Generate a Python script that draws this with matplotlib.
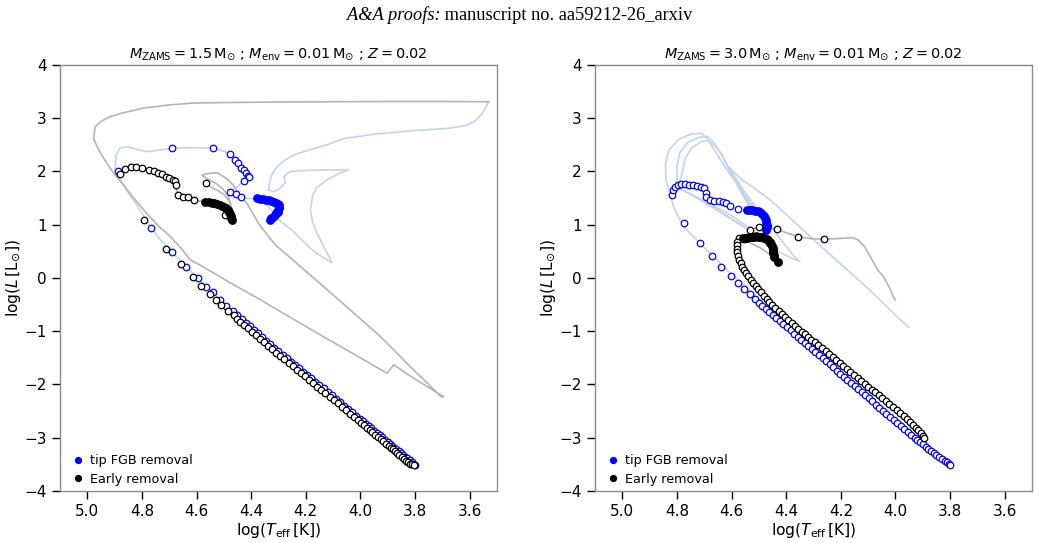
import numpy as np
import matplotlib
matplotlib.use("Agg")
import matplotlib.pyplot as plt
from matplotlib.lines import Line2D

# ---------------- data (log Teff, log L) ----------------
# left panel: M_ZAMS = 1.5
tip_open_l = [(4.889, 2.009), (4.690, 2.436), (4.540, 2.436), (4.477, 2.334), (4.460, 2.222),
              (4.447, 2.154), (4.436, 2.071), (4.427, 2.028), (4.419, 1.978), (4.413, 1.915),
              (4.409, 1.891), (4.425, 1.827), (4.477, 1.615), (4.457, 1.572), (4.436, 1.515),
              (4.766, 0.945), (4.690, 0.494), (4.637, 0.212), (4.596, -0.006), (4.564, -0.163),
              (4.540, -0.269), (4.513, -0.413), (4.492, -0.520), (4.468, -0.614), (4.450, -0.70),
              (4.435, -0.77), (4.420, -0.84), (4.405, -0.905), (4.390, -0.975), (4.375, -1.04),
              (4.360, -1.11), (4.345, -1.18), (4.330, -1.245), (4.315, -1.31), (4.300, -1.375),
              (4.285, -1.44), (4.270, -1.505), (4.255, -1.57), (4.240, -1.63), (4.225, -1.695),
              (4.210, -1.76), (4.195, -1.82), (4.180, -1.885), (4.165, -1.95), (4.150, -2.015),
              (4.135, -2.075), (4.120, -2.14), (4.105, -2.205), (4.090, -2.27), (4.075, -2.33),
              (4.060, -2.395), (4.045, -2.46), (4.030, -2.52), (4.015, -2.585), (4.000, -2.65),
              (3.990, -2.695), (3.980, -2.735), (3.970, -2.78), (3.960, -2.82), (3.950, -2.865),
              (3.940, -2.91), (3.930, -2.95), (3.920, -2.995), (3.910, -3.04), (3.900, -3.08),
              (3.892, -3.115), (3.884, -3.15), (3.876, -3.185), (3.868, -3.22), (3.860, -3.255),
              (3.852, -3.29), (3.844, -3.32), (3.836, -3.355), (3.828, -3.39), (3.820, -3.425),
              (3.812, -3.46), (3.806, -3.485), (3.800, -3.51)]
tip_fill_l = [(4.378, 1.497), (4.366, 1.490), (4.355, 1.480), (4.345, 1.470), (4.335, 1.460),
              (4.326, 1.447), (4.318, 1.433), (4.310, 1.412), (4.302, 1.390), (4.299, 1.365),
              (4.298, 1.339), (4.299, 1.310), (4.300, 1.280), (4.303, 1.247), (4.308, 1.214),
              (4.314, 1.180), (4.320, 1.150), (4.326, 1.120), (4.332, 1.090)]
early_open_l = [(4.879, 1.947), (4.861, 2.041), (4.840, 2.079), (4.821, 2.090), (4.800, 2.071),
                (4.773, 2.028), (4.757, 2.004), (4.742, 1.977), (4.726, 1.947), (4.712, 1.902),
                (4.699, 1.872), (4.686, 1.840), (4.680, 1.822), (4.675, 1.746), (4.669, 1.559),
                (4.651, 1.527), (4.631, 1.515), (4.611, 1.465), (4.565, 1.778), (4.497, 1.183),
                (4.794, 1.089), (4.712, 0.545), (4.657, 0.257), (4.614, 0.013), (4.582, -0.145),
                (4.552, -0.300), (4.529, -0.413), (4.509, -0.507), (4.485, -0.614), (4.464, -0.695),
                (4.452, -0.77), (4.440, -0.82), (4.427, -0.88), (4.412, -0.945), (4.398, -1.01),
                (4.383, -1.075), (4.368, -1.14), (4.353, -1.205), (4.338, -1.27), (4.323, -1.335),
                (4.308, -1.40), (4.293, -1.465), (4.278, -1.53), (4.263, -1.595), (4.248, -1.655),
                (4.233, -1.72), (4.218, -1.785), (4.203, -1.85), (4.188, -1.91), (4.173, -1.975),
                (4.158, -2.04), (4.143, -2.10), (4.128, -2.165), (4.113, -2.23), (4.098, -2.295),
                (4.083, -2.355), (4.068, -2.42), (4.053, -2.485), (4.038, -2.545), (4.023, -2.61),
                (4.008, -2.675), (3.996, -2.72), (3.986, -2.765), (3.976, -2.81), (3.966, -2.85),
                (3.956, -2.895), (3.946, -2.94), (3.936, -2.98), (3.926, -3.025), (3.916, -3.07),
                (3.906, -3.11), (3.897, -3.15), (3.889, -3.185), (3.881, -3.22), (3.873, -3.255),
                (3.865, -3.29), (3.857, -3.325), (3.849, -3.36), (3.841, -3.395), (3.833, -3.43),
                (3.825, -3.46), (3.817, -3.49), (3.810, -3.50), (3.805, -3.51)]
early_fill_l = [(4.568, 1.427), (4.556, 1.422), (4.545, 1.416), (4.535, 1.408), (4.525, 1.396),
                (4.515, 1.380), (4.506, 1.360), (4.498, 1.338), (4.491, 1.310), (4.486, 1.280),
                (4.481, 1.245), (4.477, 1.205), (4.474, 1.165), (4.472, 1.125), (4.470, 1.090)]

blue_track_l = [(3.530, 3.31), (3.540, 3.22), (3.555, 3.08), (3.580, 2.95), (3.615, 2.86),
                (3.680, 2.81), (3.800, 2.77), (3.950, 2.70), (4.060, 2.62), (4.123, 2.50),
                (4.190, 2.40), (4.244, 2.31), (4.280, 2.20), (4.305, 2.09), (4.322, 1.96),
                (4.330, 1.84), (4.337, 1.65), (4.315, 1.62), (4.290, 1.70), (4.275, 1.80),
                (4.280, 1.90), (4.265, 1.97), (4.256, 2.00), (4.200, 2.02), (4.120, 2.03),
                (4.043, 2.03), (4.080, 1.96), (4.123, 1.84), (4.160, 1.70), (4.175, 1.55),
                (4.183, 1.28), (4.175, 1.05), (4.160, 0.85), (4.135, 0.60), (4.115, 0.40),
                (4.104, 0.29), (4.125, 0.35), (4.170, 0.50), (4.214, 0.71), (4.256, 0.92),
                (4.300, 1.10), (4.330, 1.30), (4.360, 1.45), (4.400, 1.49), (4.436, 1.515),
                (4.457, 1.572), (4.477, 1.615), (4.450, 1.72), (4.425, 1.827), (4.409, 1.891),
                (4.413, 1.95), (4.430, 2.10), (4.450, 2.22), (4.477, 2.334), (4.510, 2.40),
                (4.540, 2.436), (4.620, 2.45), (4.690, 2.436), (4.740, 2.40), (4.782, 2.372),
                (4.830, 2.43), (4.855, 2.466), (4.880, 2.44), (4.895, 2.30), (4.897, 2.03),
                (4.880, 1.85), (4.850, 1.60), (4.810, 1.30), (4.766, 0.945), (4.730, 0.70),
                (4.690, 0.49), (4.637, 0.21), (4.596, -0.01), (4.540, -0.27), (4.468, -0.614),
                (4.318, -1.30), (4.000, -2.65), (3.800, -3.51)]
grey_track_l = [(3.530, 3.31), (3.700, 3.315), (3.900, 3.315), (4.100, 3.31), (4.300, 3.305),
                (4.500, 3.295), (4.612, 3.285), (4.700, 3.25), (4.795, 3.19), (4.870, 3.10),
                (4.916, 3.03), (4.950, 2.94), (4.971, 2.84), (4.977, 2.62), (4.965, 2.48),
                (4.952, 2.35), (4.930, 2.17), (4.904, 1.97), (4.860, 1.70), (4.830, 1.50),
                (4.794, 1.28), (4.740, 0.98), (4.696, 0.78), (4.655, 0.55), (4.623, 0.34),
                (4.586, 0.24), (4.480, -0.08), (4.366, -0.41), (4.250, -0.76), (4.136, -1.10),
                (4.020, -1.44), (3.902, -1.79), (3.878, -1.63), (3.800, -1.90), (3.695, -2.23),
                (3.705, -2.23), (3.760, -1.95), (3.817, -1.67), (3.870, -1.39), (3.927, -1.10),
                (4.037, -0.60), (4.180, 0.04), (4.311, 0.62), (4.370, 1.00), (4.415, 1.40),
                (4.445, 1.58), (4.465, 1.74), (4.490, 1.87), (4.525, 1.98), (4.560, 1.96),
                (4.580, 1.93), (4.560, 1.86), (4.530, 1.78), (4.505, 1.68), (4.485, 1.55),
                (4.475, 1.40)]
grey_chain_l = [(4.890, 1.93), (4.879, 1.947), (4.861, 2.041), (4.840, 2.079), (4.821, 2.090),
                (4.800, 2.071), (4.773, 2.028), (4.742, 1.977), (4.712, 1.902), (4.686, 1.840),
                (4.675, 1.746), (4.669, 1.559), (4.651, 1.527), (4.611, 1.465), (4.568, 1.427)]
grey_loop_l = [(4.565, 1.778), (4.545, 1.70), (4.525, 1.65), (4.500, 1.57), (4.480, 1.45),
               (4.470, 1.30)]

# right panel: M_ZAMS = 3.0
tip_open_r = [(4.818, 1.559), (4.816, 1.653), (4.808, 1.709), (4.797, 1.746), (4.784, 1.760),
              (4.769, 1.760), (4.755, 1.746), (4.740, 1.741), (4.725, 1.733), (4.711, 1.715),
              (4.700, 1.690), (4.693, 1.602), (4.692, 1.521), (4.680, 1.465), (4.666, 1.452),
              (4.647, 1.446), (4.631, 1.433), (4.619, 1.403), (4.607, 1.352), (4.578, 1.290),
              (4.775, 1.039), (4.717, 0.663), (4.671, 0.413), (4.638, 0.213), (4.604, 0.044),
              (4.578, -0.10), (4.553, -0.207), (4.534, -0.30), (4.516, -0.394), (4.501, -0.463),
              (4.488, -0.521), (4.475, -0.579), (4.462, -0.637), (4.449, -0.695), (4.436, -0.753),
              (4.423, -0.811), (4.410, -0.869), (4.397, -0.927), (4.384, -0.985), (4.371, -1.043),
              (4.358, -1.101), (4.345, -1.159), (4.332, -1.217), (4.319, -1.275), (4.306, -1.333),
              (4.293, -1.391), (4.280, -1.449), (4.267, -1.507), (4.254, -1.565), (4.241, -1.623),
              (4.228, -1.681), (4.215, -1.739), (4.202, -1.797), (4.189, -1.855), (4.176, -1.913),
              (4.163, -1.971), (4.150, -2.029), (4.137, -2.087), (4.124, -2.145), (4.111, -2.203),
              (4.098, -2.261), (4.085, -2.319), (4.072, -2.377), (4.059, -2.435), (4.046, -2.493),
              (4.033, -2.551), (4.020, -2.609), (4.007, -2.667), (3.994, -2.725), (3.981, -2.783),
              (3.968, -2.841), (3.955, -2.899), (3.942, -2.957), (3.930, -3.005), (3.920, -3.045),
              (3.910, -3.085), (3.900, -3.125), (3.890, -3.165), (3.880, -3.205), (3.870, -3.245),
              (3.860, -3.285), (3.850, -3.325), (3.840, -3.36), (3.830, -3.40), (3.820, -3.435),
              (3.812, -3.465), (3.805, -3.49), (3.799, -3.512)]
tip_fill_r = [(4.543, 1.277), (4.533, 1.275), (4.524, 1.271), (4.514, 1.262), (4.505, 1.249),
              (4.497, 1.230), (4.489, 1.202), (4.483, 1.165), (4.478, 1.127), (4.475, 1.085),
              (4.473, 1.042), (4.472, 1.000), (4.471, 0.958), (4.474, 0.901)]
early_open_r = [(4.556, 0.726), (4.531, 0.901), (4.501, 0.963), (4.433, 0.914), (4.356, 0.776),
                (4.263, 0.726),
                (4.574, 0.745), (4.580, 0.682), (4.582, 0.62), (4.581, 0.55), (4.579, 0.48),
                (4.576, 0.41), (4.572, 0.345), (4.567, 0.28), (4.562, 0.215), (4.555, 0.15),
                (4.547, 0.09), (4.539, 0.03), (4.530, -0.03), (4.521, -0.09), (4.512, -0.15),
                (4.502, -0.21), (4.492, -0.27), (4.482, -0.33), (4.472, -0.39), (4.462, -0.45),
                (4.451, -0.51), (4.440, -0.565), (4.428, -0.62), (4.416, -0.675), (4.404, -0.73),
                (4.392, -0.785), (4.380, -0.84), (4.368, -0.895), (4.356, -0.95), (4.344, -1.005),
                (4.332, -1.06), (4.320, -1.11), (4.308, -1.16), (4.295, -1.21), (4.282, -1.265),
                (4.269, -1.32), (4.256, -1.375), (4.243, -1.43), (4.230, -1.49), (4.217, -1.545),
                (4.204, -1.60), (4.191, -1.655), (4.178, -1.71), (4.165, -1.765), (4.152, -1.82),
                (4.139, -1.875), (4.126, -1.93), (4.113, -1.985), (4.100, -2.04), (4.087, -2.095),
                (4.074, -2.15), (4.061, -2.205), (4.048, -2.26), (4.035, -2.315), (4.022, -2.37),
                (4.009, -2.425), (3.996, -2.48), (3.983, -2.535), (3.970, -2.595), (3.958, -2.65),
                (3.946, -2.705), (3.935, -2.76), (3.925, -2.81), (3.916, -2.86), (3.908, -2.91),
                (3.901, -2.96), (3.896, -3.01)]
early_fill_r = [(4.560, 0.745), (4.551, 0.751), (4.543, 0.755), (4.534, 0.763), (4.525, 0.770),
                (4.517, 0.776), (4.510, 0.780), (4.502, 0.779), (4.495, 0.775), (4.487, 0.762),
                (4.480, 0.745), (4.472, 0.728), (4.466, 0.710), (4.461, 0.685), (4.458, 0.660),
                (4.455, 0.630), (4.452, 0.600), (4.450, 0.565), (4.448, 0.530), (4.447, 0.495),
                (4.447, 0.460), (4.446, 0.430), (4.446, 0.400), (4.431, 0.306)]

blue_tracks_r = [
    [(4.500, 1.20), (4.530, 1.40), (4.570, 1.70), (4.620, 2.05), (4.660, 2.38), (4.690, 2.62),
     (4.710, 2.715), (4.750, 2.70), (4.795, 2.60), (4.830, 2.40), (4.842, 2.15), (4.840, 1.84),
     (4.825, 1.55), (4.812, 1.34), (4.795, 1.15), (4.775, 0.96), (4.740, 0.78), (4.700, 0.57),
     (4.650, 0.32), (4.604, 0.08), (4.560, -0.12), (4.501, -0.40), (4.300, -1.30),
     (4.000, -2.64), (3.799, -3.51)],
    [(4.520, 1.25), (4.555, 1.55), (4.600, 1.95), (4.635, 2.30), (4.665, 2.55), (4.690, 2.66),
     (4.720, 2.64), (4.760, 2.55), (4.790, 2.35), (4.800, 2.10), (4.800, 1.85), (4.805, 1.70)],
    [(4.530, 1.30), (4.570, 1.65), (4.605, 2.00), (4.640, 2.35), (4.665, 2.50), (4.685, 2.58),
     (4.710, 2.56), (4.745, 2.45), (4.770, 2.25), (4.780, 2.00), (4.790, 1.80)],
    [(4.800, 1.70), (4.700, 1.45), (4.600, 1.17), (4.531, 0.93)],
    [(4.790, 1.68), (4.690, 1.40), (4.600, 1.10), (4.550, 0.95)],
    [(4.780, 1.66), (4.680, 1.36), (4.580, 1.05), (4.540, 0.90)],
    [(4.560, 1.60), (4.590, 1.90), (4.605, 2.05), (4.611, 2.09), (4.595, 2.00), (4.560, 1.84),
     (4.510, 1.66), (4.458, 1.465), (4.380, 1.10), (4.300, 0.72), (4.200, 0.26), (4.100, -0.20),
     (4.006, -0.663), (4.000, -0.70), (3.990, -0.75), (3.951, -0.926)],
    [(4.611, 2.09), (4.550, 1.60), (4.480, 1.12), (4.420, 0.72), (4.370, 0.40), (4.350, 0.31),
     (4.370, 0.35), (4.420, 0.47), (4.470, 0.62), (4.520, 0.78)],
]
grey_tracks_r = [
    [(4.582, 0.66), (4.578, 0.74), (4.556, 0.76), (4.531, 0.90), (4.501, 0.963), (4.470, 0.95),
     (4.433, 0.914), (4.400, 0.85), (4.356, 0.776), (4.310, 0.74), (4.263, 0.726), (4.210, 0.74),
     (4.159, 0.76), (4.138, 0.72), (4.115, 0.60), (4.092, 0.40), (4.065, 0.15), (4.043, 0.02),
     (4.020, -0.20), (4.006, -0.38), (4.000, -0.413)],
    [(4.580, 0.75), (4.540, 0.68), (4.500, 0.58), (4.470, 0.48), (4.450, 0.42)],
]

titles = [r"$M_{\rm ZAMS} = 1.5\,{\rm M}_{\odot}$ ; $M_{\rm env} = 0.01\,{\rm M}_{\odot}$ ; $Z = 0.02$",
          r"$M_{\rm ZAMS} = 3.0\,{\rm M}_{\odot}$ ; $M_{\rm env} = 0.01\,{\rm M}_{\odot}$ ; $Z = 0.02$"]
xticks = [5.0, 4.8, 4.6, 4.4, 4.2, 4.0, 3.8, 3.6]
yticks = [-4, -3, -2, -1, 0, 1, 2, 3, 4]

C_BLUE_LINE = "#c4d4e8"
C_GREY_LINE = "#b4b4b4"


def xy(pts):
    a = np.array(pts)
    return a[:, 0], a[:, 1]


fig = plt.figure(figsize=(10.39, 5.43), dpi=100)

# header: italic part + roman part, centred together
hdr_kw = dict(va="center", fontsize=13.2, family="Liberation Serif")
t1 = fig.text(0.5, 0.972, "A&A proofs:", style="italic", ha="left", **hdr_kw)
t2 = fig.text(0.5, 0.972, " manuscript no. aa59212-26_arxiv", ha="left", **hdr_kw)
r = fig.canvas.get_renderer()
w1 = t1.get_window_extent(r).width / fig.bbox.width
w2 = t2.get_window_extent(r).width / fig.bbox.width
x0 = 0.5 - (w1 + w2) / 2
t1.set_x(x0)
t2.set_x(x0 + w1)

panels = [
    dict(blue=[blue_track_l], grey=[grey_track_l, grey_chain_l, grey_loop_l],
         tip_open=tip_open_l, tip_fill=tip_fill_l, early_open=early_open_l, early_fill=early_fill_l),
    dict(blue=blue_tracks_r, grey=grey_tracks_r,
         tip_open=tip_open_r, tip_fill=tip_fill_r, early_open=early_open_r, early_fill=early_fill_r),
]
lefts = [0.0577, 0.5727]

for i, p in enumerate(panels):
    ax = fig.add_axes([lefts[i], 0.0958, 0.4206, 0.7845])
    for tr in p["blue"]:
        ax.plot(*xy(tr), color=C_BLUE_LINE, lw=1.2, zorder=1)
    for tr in p["grey"]:
        ax.plot(*xy(tr), color=C_GREY_LINE, lw=1.2, zorder=1.5)
    ax.scatter(*xy(p["tip_open"]), s=22, facecolor="white", edgecolor="blue", lw=0.9, zorder=3)
    ax.scatter(*xy(p["tip_fill"]), s=40, color="blue", lw=0, zorder=3)
    ax.scatter(*xy(p["early_open"]), s=22, facecolor="white", edgecolor="black", lw=0.9, zorder=4)
    ax.scatter(*xy(p["early_fill"]), s=40, color="black", lw=0, zorder=4)

    ax.set_xlim(5.1, 3.5)
    ax.set_ylim(-4, 4)
    ax.set_xticks(xticks)
    ax.set_yticks(yticks)
    ax.tick_params(direction="out", length=6, width=1, labelsize=11, colors="black")
    for sp in ax.spines.values():
        sp.set_color("#8c8c8c")
        sp.set_linewidth(1.0)
    ax.set_xlabel(r"$\log(T_{\rm eff}\,[{\rm K}])$", fontsize=11.2, labelpad=1)
    ax.set_ylabel(r"$\log(L\,[{\rm L}_{\odot}])$", fontsize=11.2, labelpad=1)
    ax.set_title(titles[i], fontsize=10.4, pad=5)

    handles = [Line2D([], [], ls="", marker="o", markersize=4.2, color="blue"),
               Line2D([], [], ls="", marker="o", markersize=4.2, color="black")]
    ax.legend(handles, ["tip FGB removal", "Early removal"], loc="lower left",
              bbox_to_anchor=(0.017, 0.0), frameon=False, fontsize=9.2,
              handlelength=0.8, handletextpad=0.6, borderaxespad=0.0, labelspacing=0.45)

fig.savefig("out.png", dpi=100)
